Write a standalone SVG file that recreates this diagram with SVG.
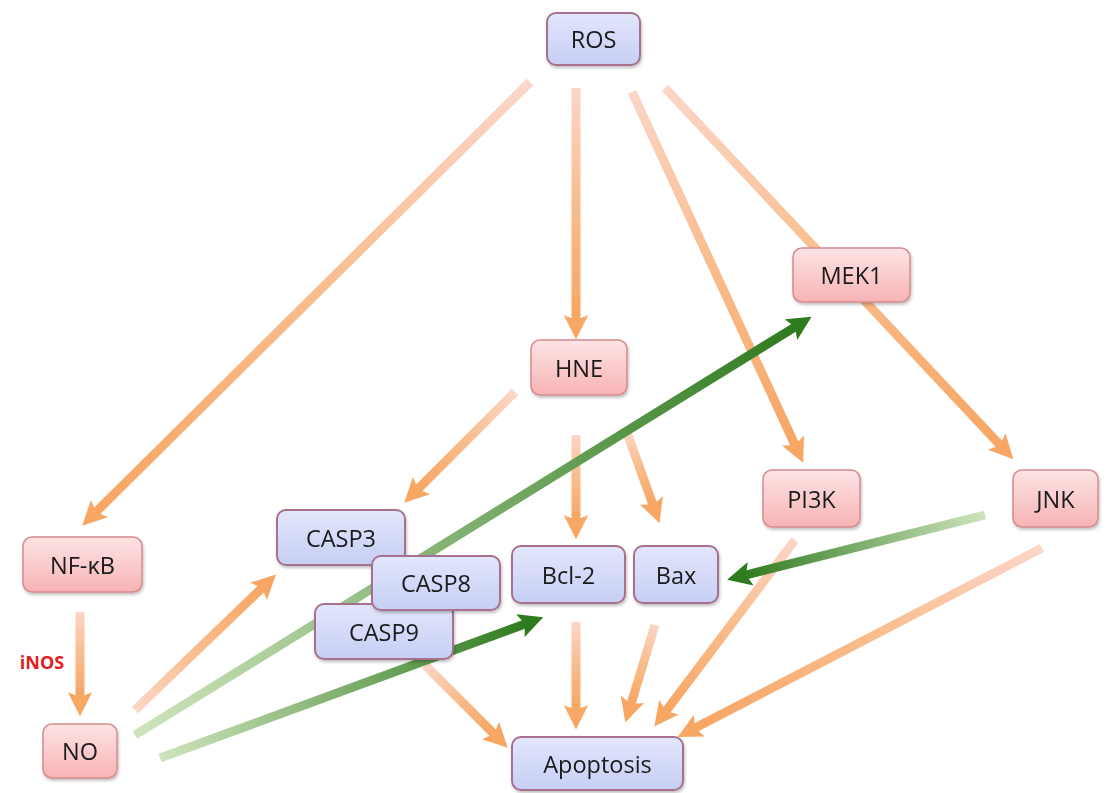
<svg xmlns="http://www.w3.org/2000/svg" width="1108" height="793" viewBox="0 0 1108 793">
<defs>
<style>
.blue rect{fill:url(#gBlue);stroke:#a8708e;stroke-width:2}
.pink rect{fill:url(#gPink);stroke:#d68a8e;stroke-width:1.5}
.node text{font-family:"Open Sans","Liberation Sans",sans-serif;font-size:23.5px;fill:#1a1a1a;text-anchor:middle;dominant-baseline:central}
.o{fill:none;stroke-width:9;stroke-linecap:butt}
.g{fill:none;stroke-width:9;stroke-linecap:butt}
</style>
<linearGradient id="gBlue" x1="0" y1="0" x2="0" y2="1"><stop offset="0" stop-color="#e2e7fc"/><stop offset="1" stop-color="#c6cef4"/></linearGradient>
<linearGradient id="gPink" x1="0" y1="0" x2="0" y2="1"><stop offset="0" stop-color="#fde4e4"/><stop offset="1" stop-color="#f7b3b5"/></linearGradient>
<filter id="sh" x="-10%" y="-10%" width="130%" height="140%"><feDropShadow dx="1" dy="2" stdDeviation="1.5" flood-color="#000" flood-opacity="0.25"/></filter>
<marker id="mo" viewBox="0 0 10 10" refX="2" refY="5" markerWidth="2.7" markerHeight="2.7" orient="auto" markerUnits="strokeWidth"><path d="M0,0 L10,5 L0,10 L2,5 z" fill="#f7a663"/></marker>
<marker id="mg" viewBox="0 0 10 10" refX="2" refY="5" markerWidth="2.7" markerHeight="2.7" orient="auto" markerUnits="strokeWidth"><path d="M0,0 L10,5 L0,10 L2,5 z" fill="#2e7a1e"/></marker>
<linearGradient id="o1" gradientUnits="userSpaceOnUse" x1="530" y1="82" x2="90" y2="518"><stop offset="0" stop-color="#fcd6c8"/><stop offset="0.5" stop-color="#f9bc8c"/><stop offset="1" stop-color="#f7a663"/></linearGradient>
<linearGradient id="o2" gradientUnits="userSpaceOnUse" x1="576" y1="88" x2="576" y2="320"><stop offset="0" stop-color="#fcd6c8"/><stop offset="0.5" stop-color="#f9bc8c"/><stop offset="1" stop-color="#f7a663"/></linearGradient>
<linearGradient id="o3" gradientUnits="userSpaceOnUse" x1="632" y1="92" x2="795" y2="445"><stop offset="0" stop-color="#fcd6c8"/><stop offset="0.5" stop-color="#f9bc8c"/><stop offset="1" stop-color="#f7a663"/></linearGradient>
<linearGradient id="o4" gradientUnits="userSpaceOnUse" x1="665" y1="88" x2="1000" y2="445"><stop offset="0" stop-color="#fcd6c8"/><stop offset="0.5" stop-color="#f9bc8c"/><stop offset="1" stop-color="#f7a663"/></linearGradient>
<linearGradient id="o5" gradientUnits="userSpaceOnUse" x1="515" y1="392" x2="418" y2="489"><stop offset="0" stop-color="#fcd6c8"/><stop offset="0.5" stop-color="#f9bc8c"/><stop offset="1" stop-color="#f7a663"/></linearGradient>
<linearGradient id="o6" gradientUnits="userSpaceOnUse" x1="576" y1="435" x2="576" y2="520"><stop offset="0" stop-color="#fcd6c8"/><stop offset="0.5" stop-color="#f9bc8c"/><stop offset="1" stop-color="#f7a663"/></linearGradient>
<linearGradient id="o7" gradientUnits="userSpaceOnUse" x1="626" y1="430" x2="653" y2="505"><stop offset="0" stop-color="#fcd6c8"/><stop offset="0.5" stop-color="#f9bc8c"/><stop offset="1" stop-color="#f7a663"/></linearGradient>
<linearGradient id="o8" gradientUnits="userSpaceOnUse" x1="80" y1="612" x2="80" y2="697"><stop offset="0" stop-color="#fcd6c8"/><stop offset="0.5" stop-color="#f9bc8c"/><stop offset="1" stop-color="#f7a663"/></linearGradient>
<linearGradient id="o9" gradientUnits="userSpaceOnUse" x1="135" y1="710" x2="262" y2="588"><stop offset="0" stop-color="#fcd6c8"/><stop offset="0.5" stop-color="#f9bc8c"/><stop offset="1" stop-color="#f7a663"/></linearGradient>
<linearGradient id="o10" gradientUnits="userSpaceOnUse" x1="425" y1="665" x2="494" y2="734"><stop offset="0" stop-color="#fcd6c8"/><stop offset="0.5" stop-color="#f9bc8c"/><stop offset="1" stop-color="#f7a663"/></linearGradient>
<linearGradient id="o11" gradientUnits="userSpaceOnUse" x1="576" y1="622" x2="576" y2="710"><stop offset="0" stop-color="#fcd6c8"/><stop offset="0.5" stop-color="#f9bc8c"/><stop offset="1" stop-color="#f7a663"/></linearGradient>
<linearGradient id="o12" gradientUnits="userSpaceOnUse" x1="655" y1="625" x2="631" y2="704"><stop offset="0" stop-color="#fcd6c8"/><stop offset="0.5" stop-color="#f9bc8c"/><stop offset="1" stop-color="#f7a663"/></linearGradient>
<linearGradient id="o13" gradientUnits="userSpaceOnUse" x1="795" y1="540" x2="666" y2="711"><stop offset="0" stop-color="#fcd6c8"/><stop offset="0.5" stop-color="#f9bc8c"/><stop offset="1" stop-color="#f7a663"/></linearGradient>
<linearGradient id="o14" gradientUnits="userSpaceOnUse" x1="1042" y1="548" x2="695" y2="728"><stop offset="0" stop-color="#fcd6c8"/><stop offset="0.5" stop-color="#f9bc8c"/><stop offset="1" stop-color="#f7a663"/></linearGradient>
<linearGradient id="g1" gradientUnits="userSpaceOnUse" x1="135" y1="735" x2="800" y2="324"><stop offset="0" stop-color="#cfe4bd"/><stop offset="1" stop-color="#2e7a1e"/></linearGradient>
<linearGradient id="g2" gradientUnits="userSpaceOnUse" x1="160" y1="758" x2="530" y2="622"><stop offset="0" stop-color="#cfe4bd"/><stop offset="1" stop-color="#2e7a1e"/></linearGradient>
<linearGradient id="g3" gradientUnits="userSpaceOnUse" x1="985" y1="515" x2="740" y2="576"><stop offset="0" stop-color="#cfe4bd"/><stop offset="1" stop-color="#2e7a1e"/></linearGradient>
</defs>
<rect width="1108" height="793" fill="#ffffff"/>
<g id="connectors">
<line class="o" x1="530" y1="82" x2="96" y2="512" stroke="url(#o1)" marker-end="url(#mo)"/>
<line class="o" x1="576" y1="88" x2="576" y2="320" stroke="url(#o2)" marker-end="url(#mo)"/>
<line class="o" x1="632" y1="92" x2="795" y2="445" stroke="url(#o3)" marker-end="url(#mo)"/>
<line class="o" x1="665" y1="88" x2="1000" y2="445" stroke="url(#o4)" marker-end="url(#mo)"/>
<line class="o" x1="515" y1="392" x2="418" y2="489" stroke="url(#o5)" marker-end="url(#mo)"/>
<line class="o" x1="576" y1="435" x2="576" y2="520" stroke="url(#o6)" marker-end="url(#mo)"/>
<line class="o" x1="626" y1="430" x2="653" y2="505" stroke="url(#o7)" marker-end="url(#mo)"/>
<line class="o" x1="80" y1="612" x2="80" y2="697" stroke="url(#o8)" marker-end="url(#mo)"/>
<line class="o" x1="135" y1="710" x2="262" y2="588" stroke="url(#o9)" marker-end="url(#mo)"/>
<line class="o" x1="425" y1="665" x2="494" y2="734" stroke="url(#o10)" marker-end="url(#mo)"/>
<line class="o" x1="576" y1="622" x2="576" y2="710" stroke="url(#o11)" marker-end="url(#mo)"/>
<line class="o" x1="655" y1="625" x2="631" y2="704" stroke="url(#o12)" marker-end="url(#mo)"/>
<line class="o" x1="795" y1="540" x2="666" y2="711" stroke="url(#o13)" marker-end="url(#mo)"/>
<line class="o" x1="1042" y1="548" x2="695" y2="728" stroke="url(#o14)" marker-end="url(#mo)"/>
<line class="g" x1="135" y1="735" x2="795" y2="327" stroke="url(#g1)" marker-end="url(#mg)"/>
<line class="g" x1="160" y1="758" x2="525" y2="624" stroke="url(#g2)" marker-end="url(#mg)"/>
<line class="g" x1="985" y1="515" x2="746" y2="575" stroke="url(#g3)" marker-end="url(#mg)"/>
<text x="42" y="669" font-family="Open Sans, Liberation Sans, sans-serif" font-size="18" font-weight="bold" fill="#e02020" text-anchor="middle">iNOS</text>
</g>
<g id="ROS" class="node blue" filter="url(#sh)"><rect x="547" y="13" width="93" height="52" rx="9"/><text x="593.5" y="39">ROS</text></g>
<g id="MEK1" class="node pink" filter="url(#sh)"><rect x="793" y="248" width="117" height="54" rx="9"/><text x="851.5" y="275">MEK1</text></g>
<g id="HNE" class="node pink" filter="url(#sh)"><rect x="531" y="340" width="96" height="55" rx="9"/><text x="579" y="367.5">HNE</text></g>
<g id="PI3K" class="node pink" filter="url(#sh)"><rect x="763" y="470" width="97" height="57" rx="9"/><text x="811.5" y="498.5">PI3K</text></g>
<g id="JNK" class="node pink" filter="url(#sh)"><rect x="1013" y="470" width="85" height="57" rx="9"/><text x="1055.5" y="498.5">JNK</text></g>
<g id="NF-kB" class="node pink" filter="url(#sh)"><rect x="23" y="537" width="119" height="55" rx="9"/><text x="82.5" y="564.5">NF-κB</text></g>
<g id="CASP3" class="node blue" filter="url(#sh)"><rect x="277" y="510" width="128" height="55" rx="9"/><text x="341" y="537.5">CASP3</text></g>
<g id="CASP9" class="node blue" filter="url(#sh)"><rect x="315" y="604" width="138" height="55" rx="9"/><text x="384" y="631.5">CASP9</text></g>
<g id="CASP8" class="node blue" filter="url(#sh)"><rect x="372" y="556" width="128" height="54" rx="9"/><text x="436" y="583">CASP8</text></g>
<g id="Bcl-2" class="node blue" filter="url(#sh)"><rect x="512" y="546" width="113" height="57" rx="9"/><text x="568.5" y="574.5">Bcl-2</text></g>
<g id="Bax" class="node blue" filter="url(#sh)"><rect x="634" y="546" width="84" height="57" rx="9"/><text x="676" y="574.5">Bax</text></g>
<g id="NO" class="node pink" filter="url(#sh)"><rect x="43" y="724" width="74" height="54" rx="9"/><text x="80" y="751">NO</text></g>
<g id="Apoptosis" class="node blue" filter="url(#sh)"><rect x="512" y="737" width="171" height="53" rx="9"/><text x="597.5" y="763.5">Apoptosis</text></g>
</svg>
